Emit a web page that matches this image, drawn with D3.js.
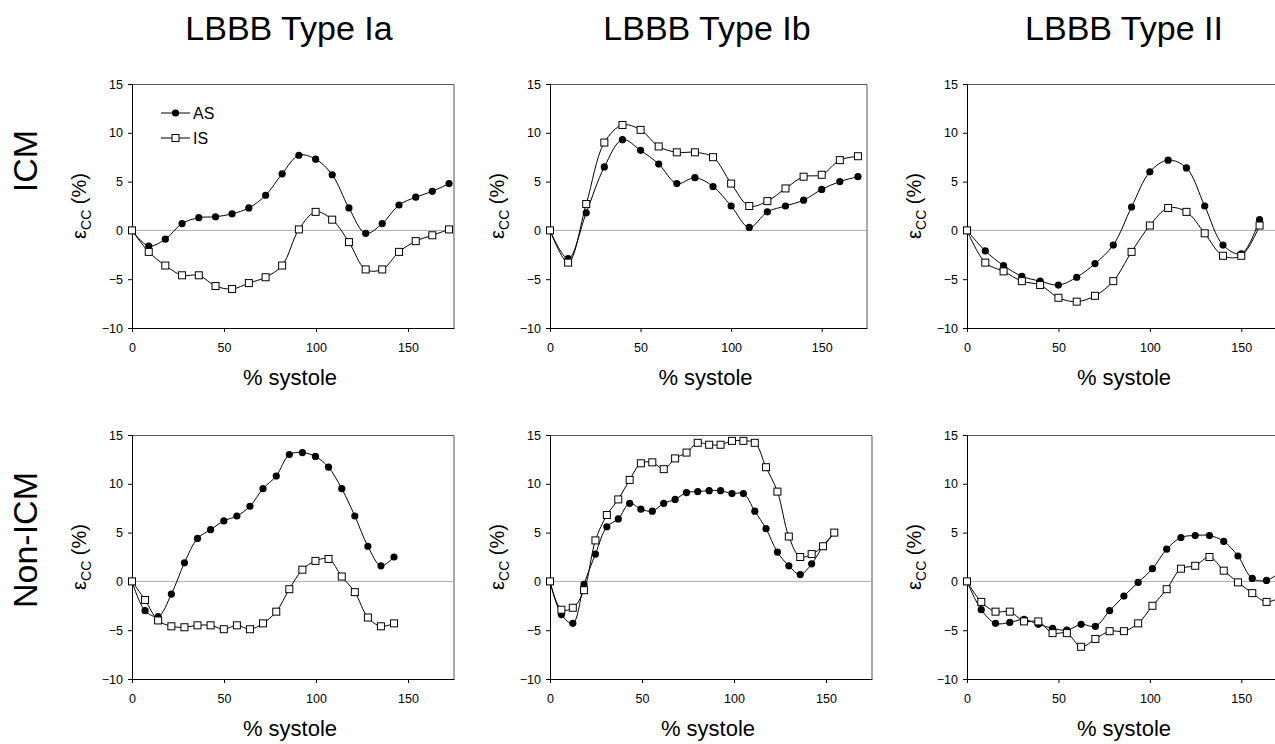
<!DOCTYPE html>
<html>
<head>
<meta charset="utf-8">
<script src="https://cdn.jsdelivr.net/npm/d3@7"></script>
<style>
  body { margin: 0; background: #fff; }
  svg { display: block; font-family: "Liberation Sans", Arial, sans-serif; }
</style>
</head>
<body>
<script>
// Column and row headings
const colTitles = ['LBBB Type Ia', 'LBBB Type Ib', 'LBBB Type II'];
const rowTitles = ['ICM', 'Non-ICM'];
const seriesNames = ['AS', 'IS'];

const xTicks = [0, 50, 100, 150];
const yTicks = [-10, -5, 0, 5, 10, 15];

// ICM, Type Ia
const icmIaX  = [0, 9.1, 18.1, 27.2, 36.3, 45.4, 54.4, 63.5, 72.6, 81.6, 90.7, 99.8, 108.8, 117.9, 127.0, 136.0, 145.1, 154.2, 163.2, 172.3];
const icmIaAS = [0, -1.6, -0.9, 0.7, 1.3, 1.4, 1.7, 2.3, 3.6, 5.8, 7.7, 7.3, 5.7, 2.3, -0.3, 0.7, 2.6, 3.4, 4.0, 4.8];
const icmIaIS = [0, -2.2, -3.6, -4.6, -4.6, -5.7, -6.0, -5.4, -4.8, -3.6, 0.1, 1.9, 1.1, -1.2, -4.0, -4.0, -2.2, -1.1, -0.5, 0.1];

// ICM, Type Ib
const icmIbX  = [0, 10, 20, 30, 40, 50, 60, 70, 80, 90, 100, 110, 120, 130, 140, 150, 160, 170];
const icmIbAS = [0, -2.9, 1.8, 6.5, 9.3, 8.2, 6.8, 4.8, 5.4, 4.5, 2.5, 0.3, 1.9, 2.5, 3.1, 4.2, 5.0, 5.5];
const icmIbIS = [0, -3.3, 2.7, 9.0, 10.8, 10.3, 8.6, 8.0, 8.0, 7.5, 4.8, 2.5, 3.0, 4.3, 5.5, 5.7, 7.2, 7.6];

// ICM, Type II
const icmIIX  = [0, 10, 20, 30, 40, 50, 60, 70, 80, 90, 100, 110, 120, 130, 140, 150, 160];
const icmIIAS = [0, -2.1, -3.6, -4.7, -5.2, -5.6, -4.8, -3.4, -1.5, 2.4, 6.0, 7.2, 6.4, 2.5, -1.5, -2.4, 1.1];
const icmIIIS = [0, -3.3, -4.2, -5.2, -5.6, -6.9, -7.3, -6.7, -5.2, -2.2, 0.5, 2.3, 1.9, -0.3, -2.6, -2.6, 0.5];

// Non-ICM, Type Ia
const nonIaX  = [0, 7.1, 14.2, 21.4, 28.5, 35.6, 42.7, 49.9, 57.0, 64.1, 71.2, 78.4, 85.5, 92.6, 99.7, 106.8, 114.0, 121.1, 128.2, 135.3, 142.4];
const nonIaAS = [0, -3.0, -3.6, -1.3, 1.9, 4.4, 5.3, 6.2, 6.7, 7.7, 9.5, 10.8, 13.0, 13.2, 12.8, 11.7, 9.5, 6.7, 3.6, 1.6, 2.5];
const nonIaIS = [0, -1.9, -4.0, -4.6, -4.7, -4.5, -4.5, -4.9, -4.5, -4.9, -4.3, -3.1, -0.8, 1.2, 2.1, 2.3, 0.5, -1.1, -3.7, -4.6, -4.3];

// Non-ICM, Type Ib
const nonIbX  = [0, 6.2, 12.4, 18.5, 24.7, 30.9, 37.1, 43.3, 49.4, 55.6, 61.8, 68.0, 74.2, 80.3, 86.5, 92.7, 98.9, 105.1, 111.3, 117.4, 123.6, 129.8, 136.0, 142.2, 148.4, 154.5];
const nonIbAS = [0, -3.4, -4.3, -0.3, 2.8, 5.6, 6.4, 8.0, 7.4, 7.2, 8.0, 8.4, 9.1, 9.2, 9.3, 9.3, 9.0, 9.0, 7.2, 5.4, 3.0, 1.6, 0.7, 1.8, 3.6, 5.0];
const nonIbIS = [0, -2.9, -2.7, -0.9, 4.2, 6.8, 8.4, 10.4, 12.1, 12.2, 11.5, 12.6, 13.2, 14.2, 14.0, 14.0, 14.4, 14.4, 14.2, 11.7, 9.2, 4.6, 2.5, 2.8, 3.6, 5.0];

// Non-ICM, Type II
const nonIIX  = [0, 7.8, 15.6, 23.4, 31.2, 39.0, 46.8, 54.6, 62.4, 70.2, 78.0, 85.8, 93.6, 101.4, 109.2, 117.0, 124.8, 132.6, 140.4, 148.2, 156.0, 163.8, 171.6];
const nonIIAS = [0, -2.9, -4.3, -4.2, -3.9, -4.4, -4.8, -5.0, -4.4, -4.6, -3.0, -1.5, -0.1, 1.3, 3.3, 4.5, 4.7, 4.7, 4.1, 2.6, 0.3, 0.1, 1.0];
const nonIIIS = [0, -2.1, -3.1, -3.1, -4.1, -4.1, -5.3, -5.3, -6.7, -5.9, -5.1, -5.1, -4.3, -2.5, -0.8, 1.3, 1.6, 2.5, 1.1, -0.1, -1.2, -2.1, -1.6];

const panels = [
  { row: 0, col: 0, x: icmIaX, as: icmIaAS, is: icmIaIS, legend: true },
  { row: 0, col: 1, x: icmIbX, as: icmIbAS, is: icmIbIS },
  { row: 0, col: 2, x: icmIIX, as: icmIIAS, is: icmIIIS },
  { row: 1, col: 0, x: nonIaX, as: nonIaAS, is: nonIaIS },
  { row: 1, col: 1, x: nonIbX, as: nonIbAS, is: nonIbIS },
  { row: 1, col: 2, x: nonIIX, as: nonIIAS, is: nonIIIS }
];

// layout in pixels
const COL_LEFT = [132, 550, 967];
const ROW_TOP  = [84, 435];
const PANEL_W  = [[322, 317, 320], [322, 322, 320]];
const PANEL_H  = 244;

const svg = d3.select('body').append('svg')
    .attr('width', 1275)
    .attr('height', 744);

// column titles
colTitles.forEach((t, i) => {
  svg.append('text')
      .attr('x', COL_LEFT[i] + 157)
      .attr('y', 40)
      .attr('text-anchor', 'middle')
      .style('font-size', '34px')
      .text(t);
});

// row titles
const rowCenters = [161, 540];
rowTitles.forEach((t, i) => {
  svg.append('text')
      .attr('transform', `translate(37,${rowCenters[i]}) rotate(-90)`)
      .attr('text-anchor', 'middle')
      .style('font-size', '34px')
      .text(t);
});

const line = d3.line().curve(d3.curveCatmullRom.alpha(0.5));

panels.forEach(p => {
  const left = COL_LEFT[p.col];
  const top = ROW_TOP[p.row];
  const w = PANEL_W[p.row][p.col];

  const x = d3.scaleLinear().domain([0, 175]).range([0, w]);
  const y = d3.scaleLinear().domain([-10, 15]).range([PANEL_H, 0]);

  const g = svg.append('g').attr('transform', `translate(${left},${top})`);

  // top and right frame
  g.append('path')
      .attr('d', `M0,0.5H${w}V${PANEL_H}`)
      .attr('fill', 'none')
      .attr('stroke', '#555')
      .attr('stroke-width', 1);

  // zero line
  g.append('line')
      .attr('x1', 0).attr('x2', w)
      .attr('y1', y(0)).attr('y2', y(0))
      .attr('stroke', '#aaa')
      .attr('stroke-width', 1);

  const xAxis = g.append('g')
      .attr('transform', `translate(0,${PANEL_H})`)
      .call(d3.axisBottom(x).tickValues(xTicks).tickSize(4).tickSizeOuter(0).tickPadding(11));
  const yAxis = g.append('g')
      .call(d3.axisLeft(y).tickValues(yTicks).tickSize(4).tickSizeOuter(0).tickPadding(5));
  [xAxis, yAxis].forEach(a => {
    a.selectAll('text').style('font-size', '12.5px').attr('fill', '#000')
        .style('font-family', '"Liberation Sans", Arial, sans-serif');
    a.selectAll('path, line').attr('stroke', '#000');
  });

  // axis labels
  g.append('text')
      .attr('x', w / 2 - 3)
      .attr('y', PANEL_H + 57)
      .attr('text-anchor', 'middle')
      .style('font-size', '22px')
      .text('% systole');

  const yl = g.append('text')
      .attr('transform', `translate(-46,${PANEL_H / 2}) rotate(-90)`)
      .attr('text-anchor', 'middle')
      .style('font-size', '20px');
  yl.append('tspan').text('ε');
  yl.append('tspan').attr('dy', 5).style('font-size', '14px').text('CC');
  yl.append('tspan').attr('dy', -5).text(' (%)');

  const asPts = p.x.map((d, i) => [x(d), y(p.as[i])]);
  const isPts = p.x.map((d, i) => [x(d), y(p.is[i])]);

  g.append('path').attr('d', line(isPts))
      .attr('fill', 'none').attr('stroke', '#000').attr('stroke-width', 1);
  g.append('path').attr('d', line(asPts))
      .attr('fill', 'none').attr('stroke', '#000').attr('stroke-width', 1);

  g.selectAll('circle.as').data(asPts).enter().append('circle')
      .attr('class', 'as')
      .attr('cx', d => d[0]).attr('cy', d => d[1])
      .attr('r', 3.6).attr('fill', '#000');

  g.selectAll('rect.is').data(isPts).enter().append('rect')
      .attr('class', 'is')
      .attr('x', d => d[0] - 3.5).attr('y', d => d[1] - 3.5)
      .attr('width', 7).attr('height', 7)
      .attr('fill', '#fff').attr('stroke', '#000').attr('stroke-width', 1);

  if (p.legend) {
    const lg = g.append('g').attr('transform', 'translate(29,29)');
    seriesNames.forEach((name, i) => {
      const row = lg.append('g').attr('transform', `translate(0,${i * 25})`);
      row.append('line').attr('x1', 0).attr('x2', 29)
          .attr('stroke', '#000').attr('stroke-width', 1);
      if (i === 0) {
        row.append('circle').attr('cx', 14.5).attr('r', 3.6).attr('fill', '#000');
      } else {
        row.append('rect').attr('x', 11).attr('y', -3.5).attr('width', 7).attr('height', 7)
            .attr('fill', '#fff').attr('stroke', '#000');
      }
      row.append('text').attr('x', 32).attr('y', 6)
          .style('font-size', '16px').text(name);
    });
  }
});
</script>
</body>
</html>
